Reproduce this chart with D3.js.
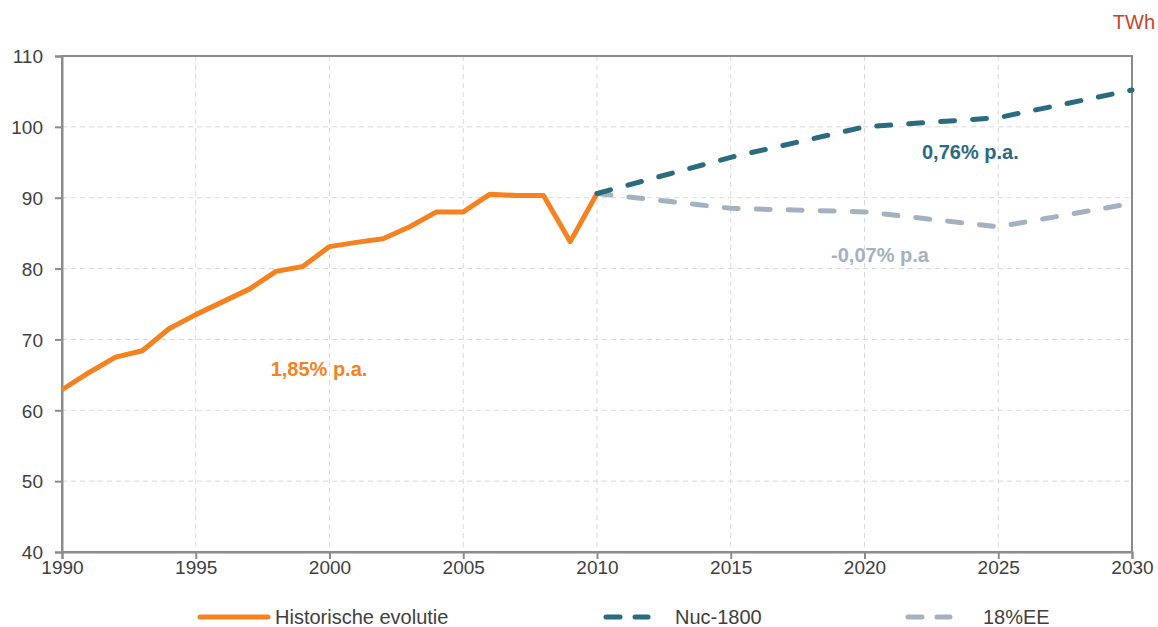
<!DOCTYPE html>
<html>
<head>
<meta charset="utf-8">
<script src="https://cdn.jsdelivr.net/npm/d3@7"></script>
<style>
  html, body { margin: 0; padding: 0; background: #fff; }
  svg text { font-family: "Liberation Sans", Arial, sans-serif; }
</style>
</head>
<body>
<div id="chart"></div>
<script>
// historical consumption (TWh)
const histYears = [1990, 1991, 1992, 1993, 1994, 1995, 1996, 1997, 1998, 1999,
  2000, 2001, 2002, 2003, 2004, 2005, 2006, 2007, 2008, 2009, 2010];
const histValues = [62.9, 65.3, 67.5, 68.4, 71.5, 73.5, 75.3, 77.1, 79.6, 80.3,
  83.1, 83.7, 84.2, 85.9, 88.0, 88.0, 90.5, 90.3, 90.3, 83.8, 90.6];

// scenarios
const scenYears = [2010, 2015, 2020, 2025, 2030];
const nucValues = [90.6, 95.7, 100.0, 101.3, 105.2];
const eeValues = [90.6, 88.5, 88.0, 85.9, 89.2];

const yTicks = [40, 50, 60, 70, 80, 90, 100, 110];
const xTicks = [1990, 1995, 2000, 2005, 2010, 2015, 2020, 2025, 2030];

const colors = { hist: "#f5821f", nuc: "#2b6b80", ee: "#a4b1c0" };

const width = 1158, height = 627;
const margin = { top: 56, right: 26, bottom: 75, left: 62 };
const plotW = width - margin.left - margin.right;
const plotH = height - margin.top - margin.bottom;

const x = d3.scaleLinear().domain([1990, 2030]).range([0, plotW]);
const y = d3.scaleLinear().domain([40, 110]).range([plotH, 0]);

const svg = d3.select("#chart").append("svg")
  .attr("width", width)
  .attr("height", height);

const g = svg.append("g")
  .attr("transform", `translate(${margin.left}, ${margin.top})`);

// grid
g.append("g").selectAll("line").data(yTicks.slice(1, -1)).enter().append("line")
  .attr("x1", 0).attr("x2", plotW)
  .attr("y1", d => y(d)).attr("y2", d => y(d))
  .attr("stroke", "#d9d9d9").attr("stroke-dasharray", "5,4");
g.append("g").selectAll("line").data(xTicks.slice(1, -1)).enter().append("line")
  .attr("y1", 0).attr("y2", plotH)
  .attr("x1", d => x(d)).attr("x2", d => x(d))
  .attr("stroke", "#d9d9d9").attr("stroke-dasharray", "5,4");

// frame
g.append("rect")
  .attr("width", plotW).attr("height", plotH)
  .attr("fill", "none").attr("stroke", "#8c8c8c").attr("stroke-width", 2);

// axes
const yAxis = d3.axisLeft(y).tickValues(yTicks).tickSize(7).tickPadding(12);
const yg = g.append("g").attr("id", "y-axis").call(yAxis);
const xAxis = d3.axisBottom(x).tickValues(xTicks).tickFormat(d3.format("d")).tickSize(7).tickPadding(2);
const xg = g.append("g").attr("id", "x-axis").attr("transform", `translate(0, ${plotH})`).call(xAxis);

[yg, xg].forEach(a => {
  a.select(".domain").attr("stroke", "#8c8c8c").attr("stroke-width", 2);
  a.selectAll(".tick line").attr("stroke", "#8c8c8c").attr("stroke-width", 2);
  a.selectAll(".tick text").attr("fill", "#404040").style("font-size", "19px");
});
yg.selectAll(".tick text").attr("dy", "0.36em");

// lines
const line = d3.line().x(d => x(d[0])).y(d => y(d[1]));

g.append("path")
  .datum(histYears.map((yr, i) => [yr, histValues[i]]))
  .attr("d", line)
  .attr("fill", "none").attr("stroke", colors.hist)
  .attr("stroke-width", 5).attr("stroke-linejoin", "round");

g.append("path")
  .datum(scenYears.map((yr, i) => [yr, eeValues[i]]))
  .attr("d", line)
  .attr("fill", "none").attr("stroke", colors.ee)
  .attr("stroke-width", 5).attr("stroke-linecap", "round")
  .attr("stroke-dasharray", "14,18");

g.append("path")
  .datum(scenYears.map((yr, i) => [yr, nucValues[i]]))
  .attr("d", line)
  .attr("fill", "none").attr("stroke", colors.nuc)
  .attr("stroke-width", 5).attr("stroke-linecap", "round")
  .attr("stroke-dasharray", "14,18");

// annotations
const notes = [
  { text: "1,85% p.a.", yr: 1997.8, v: 64.9, color: colors.hist },
  { text: "0,76% p.a.", yr: 2022.15, v: 95.5, color: colors.nuc },
  { text: "-0,07% p.a", yr: 2018.75, v: 80.9, color: colors.ee }
];
g.selectAll(".note").data(notes).enter().append("text")
  .attr("class", "note")
  .attr("x", d => x(d.yr)).attr("y", d => y(d.v))
  .attr("fill", d => d.color)
  .style("font-size", "20px").style("font-weight", "bold")
  .text(d => d.text);

// unit
svg.append("text")
  .attr("x", 1155).attr("y", 29)
  .attr("text-anchor", "end")
  .attr("fill", "#c8432b")
  .style("font-size", "20px")
  .text("TWh");

// legend
const legend = [
  { label: "Historische evolutie", color: colors.hist, x0: 200, x1: 268, dash: null, tx: 275 },
  { label: "Nuc-1800", color: colors.nuc, x0: 606, x1: 648, dash: "14,15", tx: 675 },
  { label: "18%EE", color: colors.ee, x0: 908, x1: 950, dash: "14,15", tx: 983 }
];
const lg = svg.append("g").attr("transform", "translate(0, 617)");
legend.forEach(d => {
  lg.append("line")
    .attr("x1", d.x0).attr("x2", d.x1)
    .attr("stroke", d.color).attr("stroke-width", 5)
    .attr("stroke-linecap", "round")
    .attr("stroke-dasharray", d.dash);
  lg.append("text")
    .attr("x", d.tx).attr("y", 0).attr("dy", "0.36em")
    .attr("fill", "#404040")
    .style("font-size", "20px")
    .text(d.label);
});
</script>
</body>
</html>
